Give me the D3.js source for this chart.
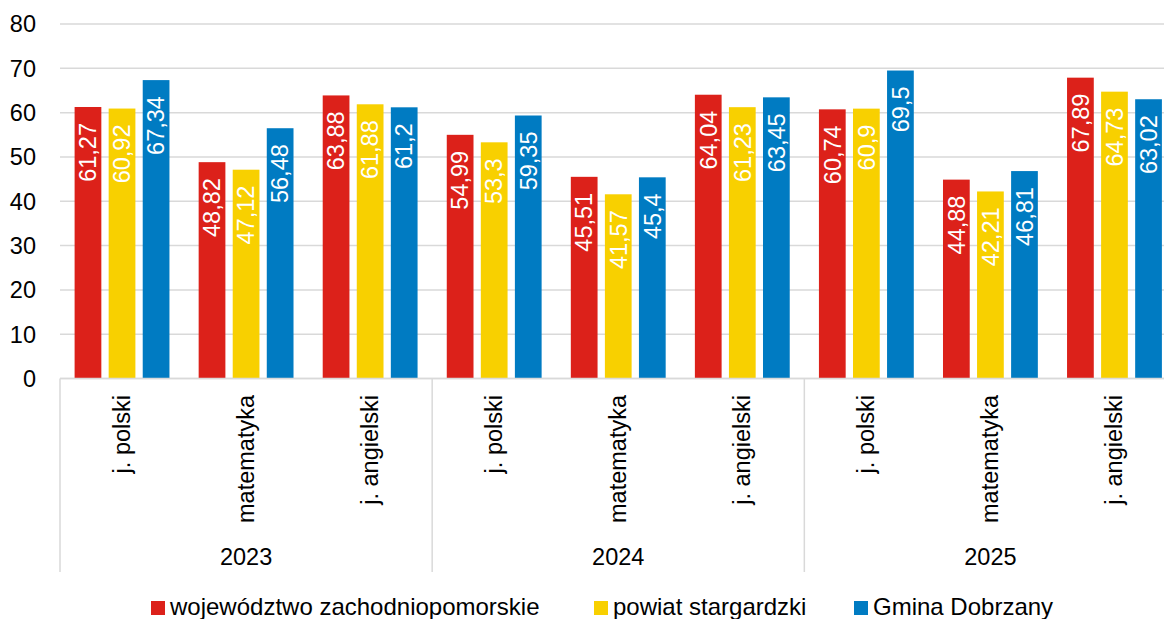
<!DOCTYPE html>
<html>
<head>
<meta charset="utf-8">
<script src="https://cdn.jsdelivr.net/npm/d3@7"></script>
<style>
  html, body { margin: 0; padding: 0; background: #fff; }
  svg { display: block; font-family: "Liberation Sans", Arial, sans-serif; }
</style>
</head>
<body>
<svg id="chart" width="1164" height="619"></svg>
<script>
// Średnie wyniki egzaminu (%) wg roku i przedmiotu
const years = ["2023", "2024", "2025"];
const subjects = ["j. polski", "matematyka", "j. angielski"];
const seriesNames = ["województwo zachodniopomorskie", "powiat stargardzki", "Gmina Dobrzany"];
const seriesColors = ["#dc211a", "#f8d000", "#007bc2"];
const yTicks = [0, 10, 20, 30, 40, 50, 60, 70, 80];

// wartości w kolejności: 2023 (pol, mat, ang), 2024 (...), 2025 (...)
const wojewodztwo = [61.27, 48.82, 63.88, 54.99, 45.51, 64.04, 60.74, 44.88, 67.89];
const powiat      = [60.92, 47.12, 61.88, 53.30, 41.57, 61.23, 60.90, 42.21, 64.73];
const gmina       = [67.34, 56.48, 61.20, 59.35, 45.40, 63.45, 69.50, 46.81, 63.02];

const seriesValues = [wojewodztwo, powiat, gmina];

const categories = [];
years.forEach(y => subjects.forEach(s => categories.push({ key: y + "|" + s, year: y, subject: s })));

const svg = d3.select("#chart");
const fontSize = 23.5;

const plotLeft = 60, plotRight = 1176.5, plotTop = 24, plotBottom = 378.5;
const axisBottom = 572;

const x = d3.scaleBand()
  .domain(categories.map(c => c.key))
  .range([plotLeft, plotRight])
  .paddingInner(0).paddingOuter(0);

const xs = d3.scaleBand()
  .domain(seriesNames)
  .range([14.6, x.bandwidth() - 14.6])
  .paddingInner(0.215).paddingOuter(0);

const y = d3.scaleLinear().domain([0, 80]).range([plotBottom, plotTop]);

// linie siatki
svg.append("g")
  .selectAll("line")
  .data(yTicks)
  .join("line")
  .attr("x1", plotLeft).attr("x2", plotRight)
  .attr("y1", d => y(d)).attr("y2", d => y(d))
  .attr("stroke", "#d9d9d9").attr("stroke-width", 1.5);

// etykiety osi Y
svg.append("g")
  .selectAll("text")
  .data(yTicks)
  .join("text")
  .attr("x", 36).attr("y", d => y(d))
  .attr("dy", "0.36em")
  .attr("text-anchor", "end")
  .attr("font-size", fontSize)
  .attr("fill", "#000")
  .text(d => d);

// słupki
const fmt = v => String(+v.toFixed(2)).replace(".", ",");
const barGroup = svg.append("g");
seriesNames.forEach((name, si) => {
  const data = categories.map((c, i) => ({ cat: c, value: seriesValues[si][i] }));
  const g = barGroup.append("g");
  g.selectAll("rect")
    .data(data)
    .join("rect")
    .attr("x", d => x(d.cat.key) + xs(name))
    .attr("width", xs.bandwidth())
    .attr("y", d => y(d.value))
    .attr("height", d => y(0) - y(d.value))
    .attr("fill", seriesColors[si]);
  g.selectAll("text")
    .data(data)
    .join("text")
    .attr("transform", d => {
      const cx = x(d.cat.key) + xs(name) + xs.bandwidth() / 2 + 8.3;
      const ty = y(d.value) + 16;
      return `translate(${cx},${ty}) rotate(-90)`;
    })
    .attr("text-anchor", "end")
    .attr("font-size", fontSize)
    .attr("fill", "#fff")
    .text(d => fmt(d.value));
});

// oś pozioma
svg.append("line")
  .attr("x1", plotLeft).attr("x2", plotRight)
  .attr("y1", plotBottom).attr("y2", plotBottom)
  .attr("stroke", "#d9d9d9").attr("stroke-width", 1.5);

// separatory lat
const yearEdges = years.map(yr => x(yr + "|" + subjects[0])).concat([plotRight]);
svg.append("g")
  .selectAll("line")
  .data(yearEdges)
  .join("line")
  .attr("x1", d => d).attr("x2", d => d)
  .attr("y1", plotBottom).attr("y2", axisBottom)
  .attr("stroke", "#d9d9d9").attr("stroke-width", 1.5);

// nazwy przedmiotów
svg.append("g")
  .selectAll("text")
  .data(categories)
  .join("text")
  .attr("transform", d => `translate(${x(d.key) + x.bandwidth() / 2 + 7.5},395) rotate(-90)`)
  .attr("text-anchor", "end")
  .attr("font-size", fontSize)
  .attr("fill", "#000")
  .text(d => d.subject);

// lata
svg.append("g")
  .selectAll("text")
  .data(years)
  .join("text")
  .attr("x", yr => (x(yr + "|" + subjects[0]) + x(yr + "|" + subjects[2]) + x.bandwidth()) / 2)
  .attr("y", 565)
  .attr("text-anchor", "middle")
  .attr("font-size", fontSize)
  .attr("fill", "#000")
  .text(yr => yr);

// legenda
const legendX = [151, 594, 854];
const legend = svg.append("g")
  .selectAll("g")
  .data(seriesNames)
  .join("g")
  .attr("transform", (d, i) => `translate(${legendX[i]},601)`);
legend.append("rect")
  .attr("width", 14).attr("height", 14)
  .attr("fill", (d, i) => seriesColors[i]);
legend.append("text")
  .attr("x", 19).attr("y", 14)
  .attr("font-size", 24)
  .attr("fill", "#000")
  .text(d => d);
</script>
</body>
</html>
